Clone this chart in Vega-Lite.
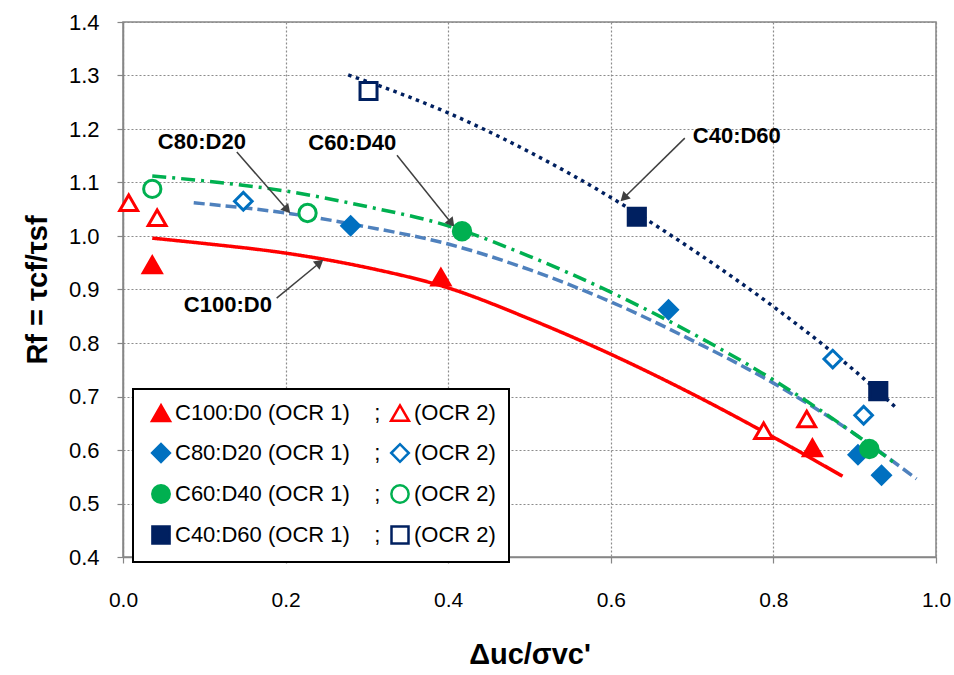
{
  "$schema": "https://vega.github.io/schema/vega-lite/v6.json",
  "width": 813,
  "height": 535,
  "autosize": {"type": "none"},
  "padding": {"left": 123, "top": 22, "right": 18, "bottom": 118},
  "background": "white",
  "config": {
    "font": "Liberation Sans",
    "view": {"stroke": "#868686", "strokeWidth": 1.5},
    "axis": {
      "domainColor": "#868686",
      "domainWidth": 1.5,
      "tickColor": "#868686",
      "tickSize": 6,
      "tickWidth": 1.2,
      "gridColor": "#8c8c8c",
      "gridDash": [2, 2],
      "gridWidth": 1.2,
      "labelColor": "black",
      "titleColor": "black",
      "labelFontSize": 22,
      "titleFontSize": 29,
      "titleFontWeight": "bold",
      "labelFlush": false
    },
    "legend": {
      "symbolStrokeWidth": 2.5,
      "symbolSize": 250,
      "labelFontSize": 22,
      "labelColor": "black",
      "labelLimit": 500,
      "strokeColor": "black",
      "strokeWidth": 2,
      "fillColor": "white",
      "padding": 13,
      "rowPadding": 13,
      "columnPadding": 4,
      "symbolOffset": 4,
      "labelOffset": 3
    }
  },
  "datasets": {
    "curves": [
      {"curve": "C100:D0", "x": 0.036, "y": 0.996},
      {"curve": "C100:D0", "x": 0.1, "y": 0.986},
      {"curve": "C100:D0", "x": 0.2, "y": 0.968},
      {"curve": "C100:D0", "x": 0.3, "y": 0.941},
      {"curve": "C100:D0", "x": 0.4, "y": 0.903},
      {"curve": "C100:D0", "x": 0.5, "y": 0.845},
      {"curve": "C100:D0", "x": 0.6, "y": 0.779},
      {"curve": "C100:D0", "x": 0.7, "y": 0.705},
      {"curve": "C100:D0", "x": 0.8, "y": 0.624},
      {"curve": "C100:D0", "x": 0.885, "y": 0.551},
      {"curve": "C80:D20", "x": 0.087, "y": 1.062},
      {"curve": "C80:D20", "x": 0.2, "y": 1.043},
      {"curve": "C80:D20", "x": 0.3, "y": 1.017},
      {"curve": "C80:D20", "x": 0.4, "y": 0.985},
      {"curve": "C80:D20", "x": 0.5, "y": 0.937},
      {"curve": "C80:D20", "x": 0.6, "y": 0.877},
      {"curve": "C80:D20", "x": 0.7, "y": 0.805},
      {"curve": "C80:D20", "x": 0.8, "y": 0.725},
      {"curve": "C80:D20", "x": 0.9, "y": 0.63},
      {"curve": "C80:D20", "x": 0.976, "y": 0.546},
      {"curve": "C60:D40", "x": 0.036, "y": 1.112},
      {"curve": "C60:D40", "x": 0.1, "y": 1.103},
      {"curve": "C60:D40", "x": 0.2, "y": 1.084},
      {"curve": "C60:D40", "x": 0.3, "y": 1.055},
      {"curve": "C60:D40", "x": 0.4, "y": 1.019},
      {"curve": "C60:D40", "x": 0.5, "y": 0.962},
      {"curve": "C60:D40", "x": 0.6, "y": 0.895},
      {"curve": "C60:D40", "x": 0.7, "y": 0.818},
      {"curve": "C60:D40", "x": 0.8, "y": 0.731},
      {"curve": "C60:D40", "x": 0.9, "y": 0.63},
      {"curve": "C60:D40", "x": 0.947, "y": 0.578},
      {"curve": "C40:D60", "x": 0.277, "y": 1.301},
      {"curve": "C40:D60", "x": 0.3, "y": 1.289},
      {"curve": "C40:D60", "x": 0.4, "y": 1.23},
      {"curve": "C40:D60", "x": 0.5, "y": 1.157},
      {"curve": "C40:D60", "x": 0.6, "y": 1.072},
      {"curve": "C40:D60", "x": 0.7, "y": 0.975},
      {"curve": "C40:D60", "x": 0.8, "y": 0.868},
      {"curve": "C40:D60", "x": 0.9, "y": 0.748},
      {"curve": "C40:D60", "x": 0.951, "y": 0.679}
    ],
    "points": [
      {"series": "C100:D0 (OCR 1)", "x": 0.036, "y": 0.946},
      {"series": "C100:D0 (OCR 1)", "x": 0.391, "y": 0.923},
      {"series": "C100:D0 (OCR 1)", "x": 0.848, "y": 0.604},
      {"series": "C100:D0 (OCR 2)", "x": 0.007, "y": 1.062},
      {"series": "C100:D0 (OCR 2)", "x": 0.042, "y": 1.034},
      {"series": "C100:D0 (OCR 2)", "x": 0.788, "y": 0.636},
      {"series": "C100:D0 (OCR 2)", "x": 0.841, "y": 0.658},
      {"series": "C80:D20 (OCR 1)", "x": 0.28, "y": 1.019},
      {"series": "C80:D20 (OCR 1)", "x": 0.671, "y": 0.862},
      {"series": "C80:D20 (OCR 1)", "x": 0.904, "y": 0.591},
      {"series": "C80:D20 (OCR 1)", "x": 0.933, "y": 0.553},
      {"series": "C80:D20 (OCR 2)", "x": 0.148, "y": 1.065},
      {"series": "C80:D20 (OCR 2)", "x": 0.873, "y": 0.77},
      {"series": "C80:D20 (OCR 2)", "x": 0.911, "y": 0.665},
      {"series": "C60:D40 (OCR 1)", "x": 0.417, "y": 1.009},
      {"series": "C60:D40 (OCR 1)", "x": 0.918, "y": 0.602},
      {"series": "C60:D40 (OCR 2)", "x": 0.036, "y": 1.088},
      {"series": "C60:D40 (OCR 2)", "x": 0.227, "y": 1.043},
      {"series": "C40:D60 (OCR 1)", "x": 0.632, "y": 1.036},
      {"series": "C40:D60 (OCR 1)", "x": 0.929, "y": 0.71},
      {"series": "C40:D60 (OCR 2)", "x": 0.302, "y": 1.271}
    ],
    "notes": [
      {"label": "C80:D20", "tx": 0.097, "ty": 1.176, "x": 0.14, "y": 1.157, "x2": 0.202, "y2": 1.049},
      {"label": "C60:D40", "tx": 0.282, "ty": 1.174, "x": 0.337, "y": 1.151, "x2": 0.404, "y2": 1.024},
      {"label": "C100:D0", "tx": 0.129, "ty": 0.871, "x": 0.189, "y": 0.884, "x2": 0.242, "y2": 0.95},
      {"label": "C40:D60", "tx": 0.755, "ty": 1.187, "x": 0.691, "y": 1.183, "x2": 0.616, "y2": 1.071}
    ]
  },
  "encoding": {
    "x": {
      "field": "x",
      "type": "quantitative",
      "scale": {"domain": [0, 1], "nice": false, "zero": false},
      "axis": {
        "values": [0, 0.2, 0.4, 0.6, 0.8, 1.0],
        "format": ".1f",
        "title": "Δuc/σvc'",
        "labelFontSize": 21,
        "labelPadding": 26,
        "titlePadding": 30
      }
    },
    "y": {
      "field": "y",
      "type": "quantitative",
      "scale": {"domain": [0.4, 1.4], "nice": false, "zero": false},
      "axis": {
        "values": [0.4, 0.5, 0.6, 0.7, 0.8, 0.9, 1.0, 1.1, 1.2, 1.3, 1.4],
        "format": ".1f",
        "title": "Rf = τcf/τsf",
        "labelPadding": 18,
        "titlePadding": 16
      }
    }
  },
  "layer": [
    {
      "data": {"name": "curves"},
      "mark": {"type": "line", "strokeWidth": 3.5, "interpolate": "monotone", "strokeCap": "butt"},
      "encoding": {
        "detail": {"field": "curve", "type": "nominal"},
        "stroke": {
          "field": "curve",
          "type": "nominal",
          "scale": {"domain": ["C100:D0", "C80:D20", "C60:D40", "C40:D60"], "range": ["#FF0000", "#4F81BD", "#00B050", "#002060"]},
          "legend": null
        },
        "strokeDash": {
          "field": "curve",
          "type": "nominal",
          "scale": {"domain": ["C100:D0", "C80:D20", "C60:D40", "C40:D60"], "range": [[1, 0], [11, 5], [14, 6, 3, 6], [3.5, 4.5]]},
          "legend": null
        }
      }
    },
    {
      "data": {"name": "notes"},
      "mark": {"type": "rule", "color": "#404040", "strokeWidth": 1.5},
      "encoding": {
        "x2": {"field": "x2"},
        "y2": {"field": "y2"}
      }
    },
    {
      "data": {"name": "notes"},
      "transform": [
        {"calculate": "atan2((datum.x2 - datum.x) * 813, (datum.y2 - datum.y) * 535) * 180 / PI", "as": "ang"}
      ],
      "mark": {"type": "point", "shape": "triangle-up", "filled": true, "color": "#404040", "size": 110, "opacity": 1},
      "encoding": {
        "x": {"field": "x2", "type": "quantitative"},
        "y": {"field": "y2", "type": "quantitative"},
        "angle": {"field": "ang", "type": "quantitative", "scale": null}
      }
    },
    {
      "data": {"name": "notes"},
      "mark": {"type": "text", "fontSize": 22, "fontWeight": "bold", "color": "black", "align": "center", "baseline": "middle"},
      "encoding": {
        "x": {"field": "tx", "type": "quantitative"},
        "y": {"field": "ty", "type": "quantitative"},
        "text": {"field": "label"}
      }
    },
    {
      "data": {"name": "points"},
      "mark": {"type": "point", "filled": false, "strokeWidth": 3, "opacity": 1},
      "encoding": {
        "color": {
          "field": "series",
          "type": "nominal",
          "title": null,
          "scale": {
            "domain": ["C100:D0 (OCR 1)", "C100:D0 (OCR 2)", "C80:D20 (OCR 1)", "C80:D20 (OCR 2)", "C60:D40 (OCR 1)", "C60:D40 (OCR 2)", "C40:D60 (OCR 1)", "C40:D60 (OCR 2)"],
            "range": ["#FF0000", "#FF0000", "#0070C0", "#0070C0", "#00B050", "#00B050", "#002060", "#002060"]
          },
          "legend": {
            "orient": "none",
            "legendX": 10,
            "legendY": 367,
            "columns": 2,
            "direction": "horizontal",
            "labelExpr": "indexof(datum.label, 'OCR 1') >= 0 ? datum.label + '\u00a0\u00a0\u00a0\u00a0;' : '(OCR 2)'"
          }
        },
        "fill": {
          "field": "series",
          "type": "nominal",
          "title": null,
          "scale": {
            "domain": ["C100:D0 (OCR 1)", "C100:D0 (OCR 2)", "C80:D20 (OCR 1)", "C80:D20 (OCR 2)", "C60:D40 (OCR 1)", "C60:D40 (OCR 2)", "C40:D60 (OCR 1)", "C40:D60 (OCR 2)"],
            "range": ["#FF0000", "#FFFFFF", "#0070C0", "#FFFFFF", "#00B050", "#FFFFFF", "#002060", "#FFFFFF"]
          }
        },
        "shape": {
          "field": "series",
          "type": "nominal",
          "title": null,
          "scale": {
            "domain": ["C100:D0 (OCR 1)", "C100:D0 (OCR 2)", "C80:D20 (OCR 1)", "C80:D20 (OCR 2)", "C60:D40 (OCR 1)", "C60:D40 (OCR 2)", "C40:D60 (OCR 1)", "C40:D60 (OCR 2)"],
            "range": ["triangle-up", "triangle-up", "diamond", "diamond", "circle", "circle", "square", "square"]
          }
        },
        "size": {
          "field": "series",
          "type": "ordinal",
          "scale": {
            "domain": ["C100:D0 (OCR 1)", "C100:D0 (OCR 2)", "C80:D20 (OCR 1)", "C80:D20 (OCR 2)", "C60:D40 (OCR 1)", "C60:D40 (OCR 2)", "C40:D60 (OCR 1)", "C40:D60 (OCR 2)"],
            "range": [324, 289, 361, 272, 256, 240, 196, 196]
          },
          "legend": null
        }
      }
    }
  ]
}
